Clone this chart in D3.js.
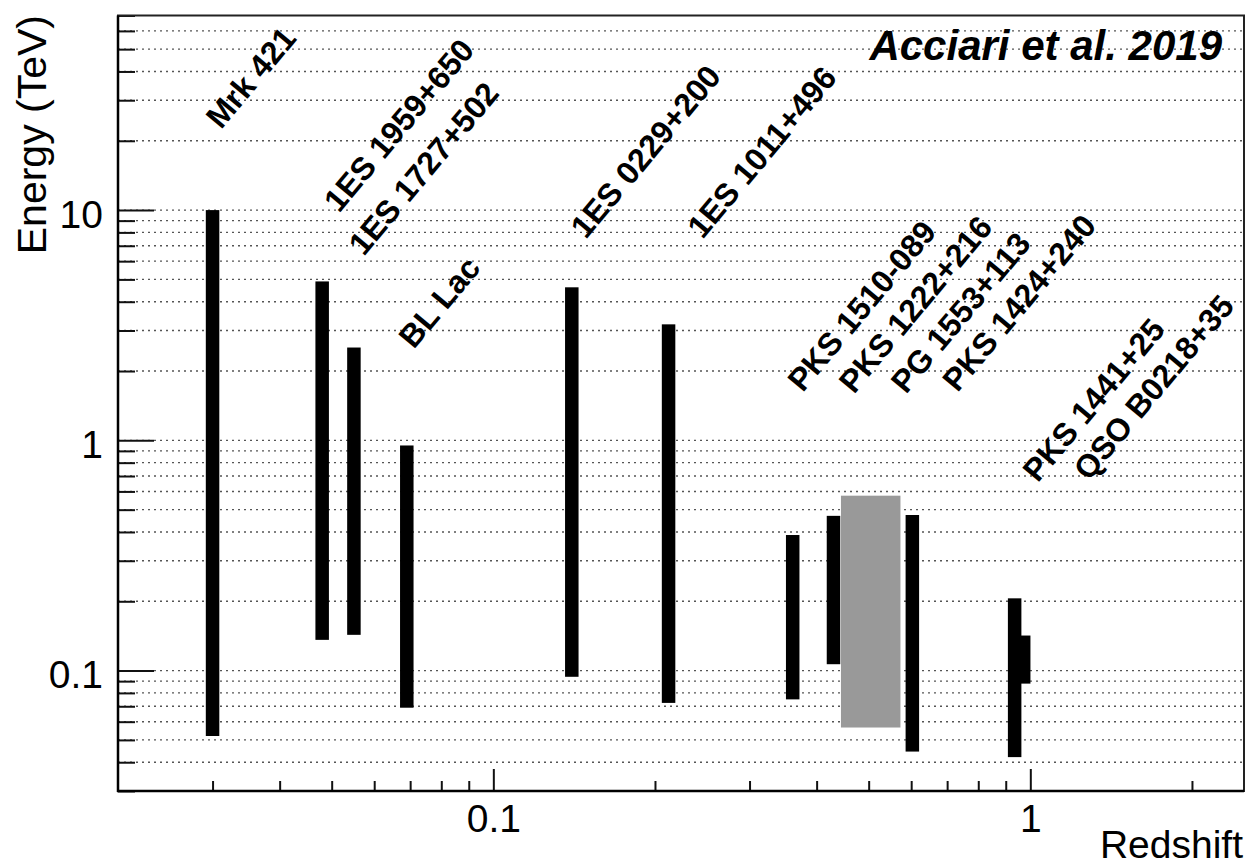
<!DOCTYPE html>
<html>
<head>
<meta charset="utf-8">
<script src="https://cdn.jsdelivr.net/npm/d3@7"></script>
<style>
  html, body { margin: 0; padding: 0; background: #fff; }
  svg { display: block; font-family: "Liberation Sans", Arial, Helvetica, sans-serif; }
</style>
</head>
<body>
<svg id="chart" width="1249" height="866"></svg>
<script>
// ---------------- data ----------------
const sources  = ["Mrk 421", "1ES 1959+650", "1ES 1727+502", "BL Lac", "1ES 0229+200", "1ES 1011+496",
                  "PKS 1510-089", "PKS 1222+216", "PG 1553+113", "PKS 1424+240", "PKS 1441+25", "QSO B0218+35"];
// redshift span of each entry (low == high for a single redshift)
const zLow     = [0.030, 0.048, 0.055, 0.069, 0.140, 0.212, 0.361, 0.430, 0.444, 0.603, 0.935, 0.972];
const zHigh    = [0.030, 0.048, 0.055, 0.069, 0.140, 0.212, 0.361, 0.430, 0.573, 0.603, 0.935, 0.972];
// energy range (TeV)
const eMin     = [0.052, 0.136, 0.143, 0.069, 0.094, 0.0724, 0.075, 0.1066, 0.0566, 0.0445, 0.0421, 0.0878];
const eMax     = [10.0, 4.9, 2.53, 0.95, 4.62, 3.19, 0.388, 0.47, 0.575, 0.474, 0.206, 0.142];
// label anchor (start of the rotated text) in data coordinates
const labelZ   = [0.0311, 0.0516, 0.0574, 0.0711, 0.1487, 0.2453, 0.3767, 0.4693, 0.5866, 0.7319, 1.032, 1.285];
const labelE   = [22.2, 9.65, 6.26, 2.47, 7.42, 7.42, 1.60, 1.575, 1.575, 1.60, 0.649, 0.660];
// drawing order (QSO B0218+35 sits behind PKS 1441+25)
const drawOrder = [8, 0, 1, 2, 3, 4, 5, 6, 7, 9, 11, 10];

const xDomain = [0.02, 2.5];
const yDomain = [0.03, 70];
const xMajor = [0.1, 1];
const xMajorLabels = ["0.1", "1"];
const yMajor = [0.1, 1, 10];
const yMajorLabels = ["0.1", "1", "10"];
const xTitle = "Redshift";
const yTitle = "Energy (TeV)";
const plotTitle = "Acciari et al. 2019";

// ---------------- layout ----------------
const L = 118, R = 1244, T = 15.5, B = 791;
const svg = d3.select("#chart");
const x = d3.scaleLog().domain(xDomain).range([L, R]);
const y = d3.scaleLog().domain(yDomain).range([B, T]);
const font = "'Liberation Sans', Arial, Helvetica, sans-serif";

svg.append("rect").attr("width", 1249).attr("height", 866).attr("fill", "#fff");

// gridlines (horizontal, dotted, at every major + minor tick)
const yAll = y.ticks();
svg.append("g").selectAll("line").data(yAll.filter(v => v > yDomain[0] * 1.0001 && v < yDomain[1] * 0.9999)).join("line")
  .attr("x1", L).attr("x2", R)
  .attr("y1", d => y(d)).attr("y2", d => y(d))
  .attr("stroke", "#555").attr("stroke-width", 1.4).attr("stroke-dasharray", "2,4");

// bars / boxes
const barW = 13.5;
const g = svg.append("g");
drawOrder.forEach(i => {
  const single = zLow[i] === zHigh[i];
  const x0 = single ? x(zLow[i]) - barW / 2 : x(zLow[i]);
  const w = single ? barW : x(zHigh[i]) - x(zLow[i]);
  g.append("rect")
    .attr("x", x0).attr("width", w)
    .attr("y", y(eMax[i])).attr("height", y(eMin[i]) - y(eMax[i]))
    .attr("fill", single ? "#000" : "#999");
});

// axes ticks (inward)
const yMinor = yAll.filter(v => !yMajor.includes(v));
const xMinor = x.ticks().filter(v => !xMajor.includes(v) && v > xDomain[0] * 1.0001);

const yAxisMinor = svg.append("g").attr("transform", `translate(${L},0)`)
  .call(d3.axisLeft(y).tickValues(yMinor).tickSizeInner(-17).tickSizeOuter(0).tickFormat(""));
const yAxisMajor = svg.append("g").attr("transform", `translate(${L},0)`)
  .call(d3.axisLeft(y).tickValues(yMajor).tickSizeInner(-36).tickSizeOuter(0)
        .tickFormat((d, i) => yMajorLabels[i]));
const xAxisMinor = svg.append("g").attr("transform", `translate(0,${B})`)
  .call(d3.axisBottom(x).tickValues(xMinor).tickSizeInner(-10).tickSizeOuter(0).tickFormat(""));
const xAxisMajor = svg.append("g").attr("transform", `translate(0,${B})`)
  .call(d3.axisBottom(x).tickValues(xMajor).tickSizeInner(-22).tickSizeOuter(0)
        .tickFormat((d, i) => xMajorLabels[i]));

[yAxisMinor, yAxisMajor, xAxisMinor, xAxisMajor].forEach(a => {
  a.select(".domain").remove();
  a.selectAll(".tick line").attr("stroke", "#111").attr("stroke-width", 2);
});
yAxisMajor.selectAll(".tick text")
  .attr("x", -15).attr("dy", null).attr("y", 17)
  .attr("font-size", 39).attr("font-family", font).attr("fill", "#000").attr("text-anchor", "end");
xAxisMajor.selectAll(".tick text")
  .attr("y", 41).attr("dy", null)
  .attr("font-size", 39).attr("font-family", font).attr("fill", "#000").attr("text-anchor", "middle");

// frame
svg.append("rect").attr("x", L).attr("y", T).attr("width", R - L).attr("height", B - T)
  .attr("fill", "none").attr("stroke", "#222").attr("stroke-width", 2);
svg.append("line").attr("x1", L).attr("x2", L).attr("y1", T).attr("y2", B + 1)
  .attr("stroke", "#000").attr("stroke-width", 2.5);
svg.append("line").attr("x1", L - 1).attr("x2", R).attr("y1", B).attr("y2", B)
  .attr("stroke", "#000").attr("stroke-width", 2.5);

// source labels
svg.append("g").selectAll("text").data(sources).join("text")
  .attr("transform", (d, i) => `translate(${x(labelZ[i])},${y(labelE[i])}) rotate(-50)`)
  .attr("font-size", 32).attr("font-weight", "bold").attr("font-family", font).attr("fill", "#000")
  .text(d => d);

// axis titles
svg.append("text").attr("x", 1243).attr("y", 858).attr("text-anchor", "end")
  .attr("font-size", 39).attr("font-family", font).attr("fill", "#000").text(xTitle);
svg.append("text").attr("transform", "translate(46,15) rotate(-90)").attr("text-anchor", "end")
  .attr("font-size", 41).attr("font-family", font).attr("fill", "#000").text(yTitle);

// title
svg.append("text").attr("x", 1222).attr("y", 60).attr("text-anchor", "end")
  .attr("font-size", 42).attr("font-weight", "bold").attr("font-style", "italic")
  .attr("font-family", font).attr("fill", "#000").text(plotTitle);
</script>
</body>
</html>
